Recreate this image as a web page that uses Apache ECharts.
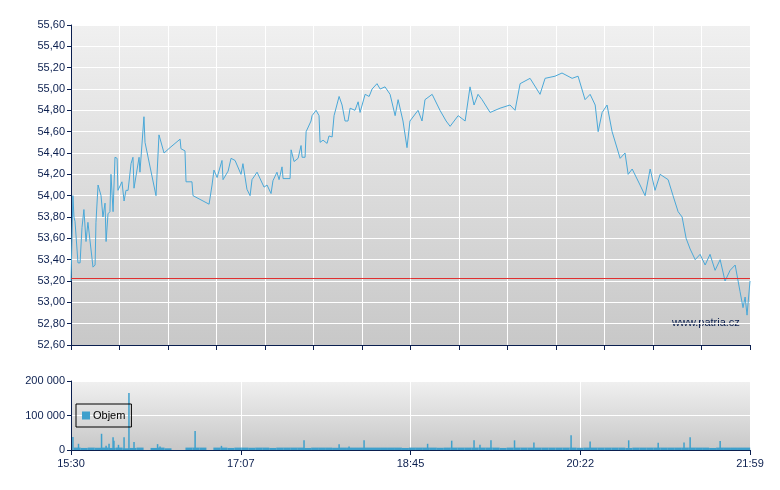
<!DOCTYPE html>
<html><head><meta charset="utf-8">
<script src="https://cdn.jsdelivr.net/npm/echarts@6/dist/echarts.min.js"></script>
<style>html,body{margin:0;padding:0;background:#fff}#c{width:780px;height:490px}</style>
</head><body><div id="c"></div>
<script>
// minutes after 15:30
const priceTimes = [0,1.1,1.7,2.3,2.9,4.0,5.2,6.3,7.4,8.6,9.2,9.7,12.6,13.8,14.3,15.5,17.2,18.3,19.5,20.1,21.2,22.3,22.9,24.1,25.2,26.4,26.9,29.2,30.4,31.5,32.7,34.4,35.5,36.1,37.2,39.0,39.5,41.8,42.4,48.7,49.3,50.4,53.3,56.7,62.5,63.0,65.3,65.9,69.3,69.9,79.1,80.8,81.9,83.7,86.5,87.1,90.0,91.7,94.0,97.4,98.5,100.8,102.6,103.7,106.6,110.6,112.3,114.6,115.7,118.0,119.2,120.9,121.5,125.5,126.1,127.8,130.1,131.8,132.4,134.1,134.7,137.5,138.1,140.4,142.1,142.7,144.4,146.7,147.8,149.6,150.7,153.6,155.3,157.0,158.7,159.9,162.7,164.5,165.6,168.5,170.8,172.5,175.3,177.1,179.9,182.8,185.7,187.4,190.2,192.5,194.2,198.8,201.1,202.8,206.9,211.4,214.9,217.2,221.8,225.8,228.6,230.9,233.2,235.5,240.1,245.8,251.5,254.4,257.3,263.0,268.7,271.6,277.3,281.3,287.1,290.5,294.5,297.4,300.3,302.0,304.3,307.1,310.0,314.6,317.4,319.2,321.5,326.0,328.9,331.8,334.6,337.5,342.1,344.9,347.8,350.1,352.4,354.7,357.6,360.4,363.3,366.1,369.0,371.9,374.7,377.6,380.5,383.3,385.0,386.2,387.3,389];
const priceValues = [53.2,54.0,53.8,53.76,53.76,53.37,53.37,53.7,53.87,53.57,53.57,53.75,53.33,53.35,53.75,54.1,54.0,53.8,53.93,53.57,53.83,53.85,54.2,53.85,54.36,54.35,54.05,54.13,53.95,54.05,54.05,54.3,54.36,54.07,54.08,54.36,54.22,54.74,54.5,54.0,54.2,54.57,54.4,54.45,54.53,54.44,54.42,54.13,54.13,54.0,53.92,54.1,54.24,54.17,54.33,54.15,54.23,54.35,54.33,54.2,54.3,54.06,54.0,54.15,54.22,54.08,54.1,54.02,54.14,54.22,54.15,54.27,54.16,54.16,54.43,54.32,54.35,54.47,54.36,54.36,54.6,54.7,54.75,54.8,54.75,54.5,54.52,54.49,54.56,54.55,54.75,54.93,54.85,54.7,54.7,54.82,54.8,54.88,54.78,54.95,54.93,55.0,55.05,55.0,55.02,54.95,54.75,54.9,54.7,54.45,54.7,54.8,54.7,54.9,54.95,54.8,54.7,54.65,54.75,54.7,55.02,54.85,54.95,54.9,54.78,54.82,54.85,54.8,55.05,55.1,54.95,55.1,55.12,55.15,55.1,55.12,54.9,54.95,54.85,54.6,54.78,54.85,54.6,54.35,54.4,54.2,54.25,54.1,54.0,54.25,54.05,54.2,54.15,54.0,53.85,53.8,53.6,53.5,53.4,53.45,53.35,53.45,53.3,53.4,53.2,53.3,53.35,53.1,52.95,53.05,52.88,53.2];
const prevClose = 53.23;
const spikeTimes = [1.1,4.3,17.5,20.1,21.8,24.1,24.6,27.2,30.4,33.2,36.1,49.6,51.0,71.1,86.2,133.5,153.6,159.3,167.9,204.3,218.1,230.9,234.3,240.6,254.1,265.2,286.5,297.4,319.5,336.4,351.2,354.7,371.9];
const spikeValues = [38000,18000,47000,12000,18000,37000,27000,15000,37000,165000,23000,17000,10000,55000,12000,28000,17000,10000,28000,18000,27000,28000,15000,28000,28000,22000,43000,25000,28000,21000,22000,37000,26000];
// base volume, one value per 4 minutes starting at 0
const baseVolume = [7000,6000,7000,6500,7000,6000,7000,5000,6000,7000,0,6000,7000,5000,0,0,7000,7000,7000,0,7000,7000,6000,7000,7000,6500,7000,7000,6000,7000,7000,7000,7000,6000,7000,7000,7000,6500,7000,7000,7000,7000,7000,7000,7000,7000,7000,6000,7000,7000,7000,7000,6500,7000,7000,7000,7000,7000,7000,7000,7000,6000,7000,7000,7000,7000,7000,7000,7000,7000,7000,7000,6500,7000,7000,7000,7000,7000,7000,6000,7000,7000,7000,7000,7000,7000,7000,7000,7000,7000,7000,6000,7000,7000,7000,7000,7000,7000];
const timeLabels = ['15:30','17:07','18:45','20:22','21:59'];

const navy = '#0b1f4f';
const bg = {type:'linear',x:0,y:0,x2:0,y2:1,colorStops:[{offset:0,color:'#f0f0f0'},{offset:1,color:'#c8c8c8'}]};
const fmtPrice = v => v.toFixed(2).replace('.', ',');
const fmtVol = v => v === 0 ? '0' : String(v).replace(/\B(?=(\d{3})+(?!\d))/g, ' ');
const fmtTime = v => { const i = Math.round(v / (389/4)); return timeLabels[i] || ''; };

const chart = echarts.init(document.getElementById('c'));
chart.setOption({
  animation: false,
  textStyle: {fontFamily: 'Liberation Sans, Arial, sans-serif'},
  grid: [
    {left:71, right:30, top:25, height:320, show:true, backgroundColor:bg, borderWidth:0},
    {left:71, right:30, top:381, height:69, show:true, backgroundColor:bg, borderWidth:0}
  ],
  legend: {
    gridIndex:1, left:76, top:404, orient:'vertical', data:['Objem'],
    itemWidth:8, itemHeight:8, itemGap:4, padding:[6,6,6,6],
    borderColor:'#000', borderWidth:1, borderRadius:0,
    textStyle:{fontSize:11, color:'#000', padding:[0,0,0,-2]}, icon:'rect',
    selectedMode:false
  },
  xAxis: [
    {type:'value', gridIndex:0, min:0, max:389, interval:389/14,
     axisLine:{show:true, lineStyle:{color:navy}}, axisTick:{show:true, length:5, lineStyle:{color:navy}},
     axisLabel:{show:false}, splitLine:{show:true, lineStyle:{color:'#fff', width:1}}},
    {type:'value', gridIndex:1, min:0, max:389, interval:389/4,
     axisLine:{show:true, lineStyle:{color:navy}}, axisTick:{show:true, length:5, lineStyle:{color:navy}},
     axisLabel:{color:navy, fontSize:11, formatter:fmtTime, margin:8},
     splitLine:{show:true, lineStyle:{color:'#fff', width:1}}}
  ],
  yAxis: [
    {type:'value', gridIndex:0, min:52.6, max:55.6, interval:0.2,
     axisLine:{show:true, lineStyle:{color:navy}}, axisTick:{show:true, length:4, lineStyle:{color:navy}},
     axisLabel:{color:navy, fontSize:11, formatter:fmtPrice, margin:6},
     splitLine:{show:true, lineStyle:{color:'#fff', width:1}}},
    {type:'value', gridIndex:1, min:0, max:200000, interval:100000,
     axisLine:{show:true, lineStyle:{color:navy}}, axisTick:{show:true, length:4, lineStyle:{color:navy}},
     axisLabel:{color:navy, fontSize:11, formatter:fmtVol, margin:6},
     splitLine:{show:true, lineStyle:{color:'#fff', width:1}}}
  ],
  graphic: [{type:'text', left:672, top:317, style:{text:'www.patria.cz', fill:'#0b1f4f', font:'11px Liberation Sans, Arial, sans-serif'}}],
  series: [
    {type:'line', xAxisIndex:0, yAxisIndex:0, data:priceTimes.map((t,i)=>[t,priceValues[i]]),
     showSymbol:false, lineStyle:{color:'#4aa8d8', width:1}, z:3,
     markLine:{silent:true, symbol:'none', label:{show:false}, lineStyle:{color:'#e03030', type:'solid', width:1},
       data:[{yAxis:prevClose}]}},
    {name:'Objem', type:'bar', xAxisIndex:1, yAxisIndex:1, data:baseVolume.map((v,i)=>[i*4+2,v]),
     barWidth:7, itemStyle:{color:'#3fa0cc'}},
    {name:'Objem', type:'bar', xAxisIndex:1, yAxisIndex:1, data:spikeTimes.map((t,i)=>[t,spikeValues[i]]),
     barWidth:1.5, barGap:'-100%', itemStyle:{color:'#3fa0cc'}}
  ]
});
</script></body></html>
